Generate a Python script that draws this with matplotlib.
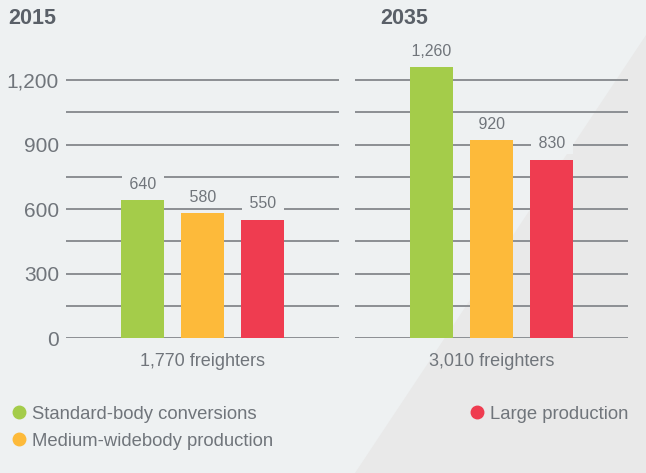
import matplotlib
matplotlib.use("Agg")
from matplotlib import pyplot as plt
from matplotlib.lines import Line2D
from matplotlib.patches import Polygon

plt.rcParams['font.family'] = ['Liberation Sans', 'DejaVu Sans']

# данные
years = ['2015', '2035']
categories = ['Standard-body conversions', 'Medium-widebody production', 'Large production']
values_2015 = [640, 580, 550]
values_2035 = [1260, 920, 830]
totals = ['1,770 freighters', '3,010 freighters']
y_ticks = [0, 300, 600, 900, 1200]
y_grid = [0, 150, 300, 450, 600, 750, 900, 1050, 1200]

colors = ['#a4cc4a', '#fdba3a', '#ef3c50']
bg = '#eef1f2'
text_col = '#70757b'
grid_col = '#8c8f93'

W, H = 646, 473
fig = plt.figure(figsize=(W / 100, H / 100), dpi=100, facecolor=bg)

# светлый диагональный фон справа
fig.add_artist(Polygon([(646 / W, 1 - 35 / H), (1, 0), (355 / W, 0)],
                       closed=True, transform=fig.transFigure,
                       facecolor='#e9e9e9', edgecolor='none', zorder=0))

panels = [(66, values_2015), (355, values_2035)]
x = [0, 1, 2]
for i, (left, vals) in enumerate(panels):
    ax = fig.add_axes([left / W, (H - 338) / H, 273 / W, 301 / H])
    ax.set_facecolor('none')
    ax.set_xlim(-1.28, 3.27)
    ax.set_ylim(0, 1400)
    for g in y_grid:
        ax.axhline(g, color=grid_col, lw=1.4, zorder=1)
    ax.bar(x, vals, width=0.72, color=colors, zorder=2)
    for xi, v in zip(x, vals):
        ax.annotate(f' {v:,} ', (xi, v), xytext=(0, 6), textcoords='offset points',
                    ha='center', va='bottom', fontsize=11.5, color=text_col,
                    bbox=dict(boxstyle='square,pad=0.2', fc=bg, ec='none'), zorder=3)
    for s in ax.spines.values():
        s.set_visible(False)
    ax.set_xticks([])
    if i == 0:
        ax.set_yticks(y_ticks)
        ax.set_yticklabels([f'{t:,}' for t in y_ticks], fontsize=15, color=text_col)
        ax.tick_params(axis='y', length=0, pad=5)
    else:
        ax.set_yticks([])
    ax.text(1, -107, totals[i], ha='center', va='center', fontsize=13, color=text_col)

fig.text(8 / W, 1 - 19 / H, years[0], fontsize=15.5, fontweight='bold', color='#5a6068', va='center')
fig.text(380 / W, 1 - 19 / H, years[1], fontsize=15.5, fontweight='bold', color='#5a6068', va='center')

handles = [Line2D([], [], marker='o', ls='none', markersize=9, color=c) for c in colors]
fig.legend(handles, categories, ncol=2, loc='upper left', bbox_to_anchor=(-8 / W, 1 - 389 / H),
           frameon=False, fontsize=13.3, labelcolor=text_col, handletextpad=0.15,
           handlelength=1.1, columnspacing=10.5, labelspacing=0.55)

plt.savefig('out.png', dpi=100, facecolor=bg)
